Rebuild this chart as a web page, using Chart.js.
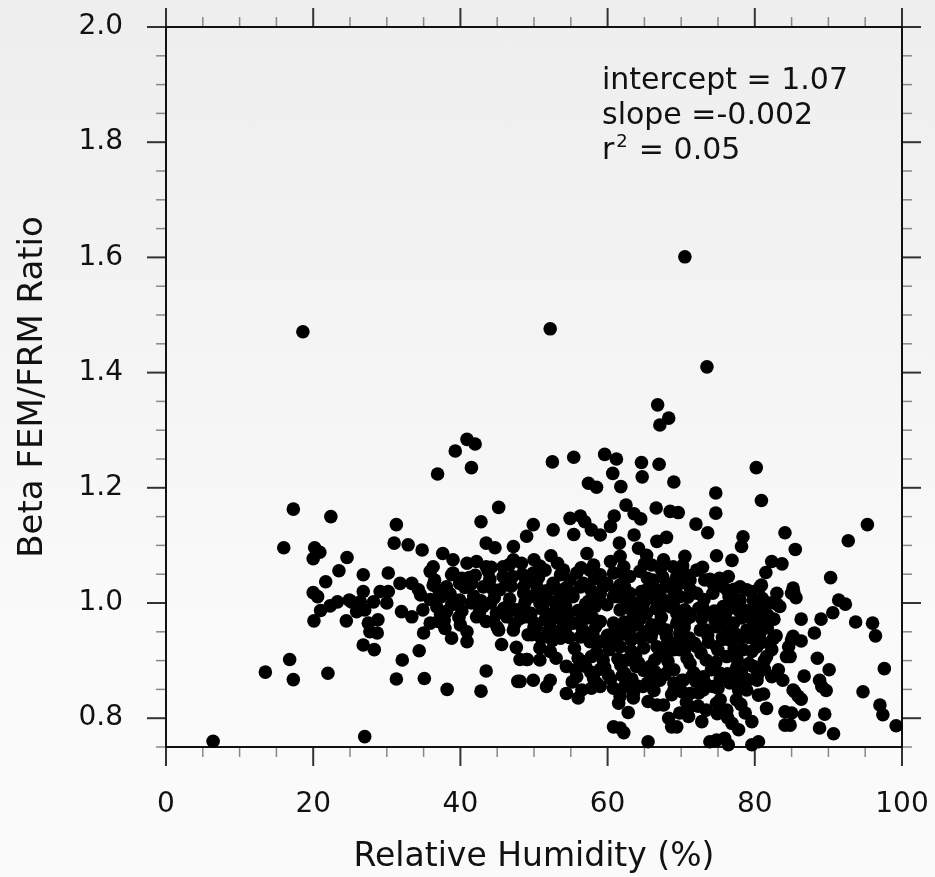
<!DOCTYPE html>
<html lang="en">
<head>
    <meta charset="UTF-8">
    <title>Beta FEM/FRM Ratio vs Relative Humidity</title>
    <script src="https://cdn.jsdelivr.net/npm/chart.js"></script>
    <style>
        html, body { margin: 0; padding: 0; }
        body {
            width: 935px; height: 877px;
            background: linear-gradient(to bottom, #eeeeee 0%, #f5f5f5 45%, #fafafa 70%, #fafafa 100%);
        }
        canvas { display: block; }
    </style>
</head>
<body>
    <canvas id="myChart" width="935" height="877"></canvas>

    <script>
        // relative humidity (%) of each paired sample
        const humidity = [
            // sparse points, left cluster
            18.6, 52.2, 70.5, 73.5, 6.4, 27.0, 66.8, 68.3, 67.1, 17.3,
            22.4, 16.0, 20.2, 20.9, 20.0, 24.6, 23.5, 21.7, 20.0, 20.6,
            23.3, 22.3, 21.0, 20.1, 24.5, 24.9, 16.8, 13.5, 17.3, 22.0,
            // 25-50 %
            40.9, 42.0, 39.3, 41.5, 36.9, 45.2, 42.8, 31.3, 31.0, 32.9,
            34.8, 43.5, 44.7, 47.2, 49.0, 26.8, 30.2, 37.6, 39.0, 36.3,
            35.9, 40.9, 42.2, 43.5, 38.8, 45.8, 45.8, 47.2, 48.3, 31.8,
            33.4, 34.3, 34.6, 36.3, 38.1, 39.9, 41.5, 43.1, 45.4, 48.6,
            29.1, 30.2, 26.8, 25.2, 26.4, 28.2, 30.0, 27.0, 25.9, 28.8,
            27.5, 27.7, 28.7, 32.0, 33.4, 38.8, 38.1, 39.9, 41.5, 43.1,
            42.2, 43.5, 44.9, 46.3, 47.6, 48.8, 35.9, 37.0, 37.9, 35.0,
            38.8, 40.9, 40.9, 47.2, 49.2, 26.8, 28.3, 34.4, 32.1, 45.6,
            47.6, 48.1, 49.0, 43.5, 31.3, 35.1, 38.2, 42.8, 47.8,
            // 50-70 %, upper part
            52.5, 55.4, 59.6, 61.2, 64.6, 67.0, 64.7, 60.7, 57.4, 58.5,
            61.8, 69.0, 62.5, 63.6, 64.5, 66.6, 68.5, 69.6, 54.9, 56.3,
            56.9, 60.9, 49.9, 52.6, 55.4, 57.8, 59.0, 60.4, 63.6, 66.7,
            68.0, 64.2, 61.6, 57.2, 52.3, 50.0, 61.7, 60.4, 65.3, 66.0,
            67.6, 68.9, 49.9, 51.5, 54.0, 55.8, 57.6, 59.0, 60.8, 63.0,
            64.4, 49.0, 52.6, 54.9, 56.7, 59.9, 61.7, 66.2, 68.0, 69.4,
            // 50-70 %, lower part
            50.1, 52.4, 49.7, 51.0, 53.6, 50.8, 49.1, 50.8, 53.0, 54.4,
            55.6, 56.0, 57.8, 59.4, 60.1, 58.1, 49.9, 52.2, 51.7, 48.1,
            54.4, 56.0, 56.5, 57.8, 59.0, 60.8, 61.7, 62.3, 63.5, 61.5,
            62.8, 60.8, 61.7, 62.2, 65.5, 64.8, 65.5, 67.6, 68.3, 68.7,
            67.1, 69.0, 69.0, 66.7, 63.9, 62.6, 61.7, 60.3, 57.6, 56.3,
            55.3, 54.7, 57.2, 59.0, 60.8, 63.0, 64.4, 66.0, 68.0, 69.4,
            63.5, 65.3, 67.1, 69.0, 61.7, 59.9, 48.6, 48.6, 50.4, 50.8,
            53.1, 53.1, 55.3, 56.3, 59.4, 60.8, 63.0, 63.9, 65.3, 67.1,
            68.5, 57.2, 58.3, 52.6, 49.0,
            // 70-86 %, upper part
            80.2, 74.7, 80.9, 74.7, 72.0, 73.6, 84.1, 78.4, 78.2, 85.5,
            70.5, 74.8, 76.9, 82.3, 83.7, 81.5, 75.2, 72.1, 71.2, 73.2,
            78.0, 80.7, 85.2,
            // 70-86 %, lower part
            83.0, 85.0, 80.9, 82.9, 84.6, 85.2, 84.3, 83.2, 82.3, 83.8,
            85.2, 85.9, 81.6, 84.1, 84.1, 80.5, 78.7, 79.6, 76.9, 77.8,
            73.9, 74.8, 75.9, 76.4, 79.6, 80.5, 72.8, 69.4, 73.4, 76.2,
            75.3, 77.5, 78.9, 71.2, 69.8, 71.2, 73.0, 74.3, 76.6, 78.4,
            80.3, 79.8, 77.5, 75.3, 73.0, 70.3, 69.0, 69.0, 71.2, 73.4,
            76.2, 78.4, 80.3, 81.6, 80.7, 78.9, 76.6, 74.8, 72.1, 69.8,
            69.8, 72.6, 74.8, 77.1, 79.3, 81.2, 82.1, 79.8, 77.5, 75.7,
            73.4, 71.2, 69.4, 69.8, 72.1, 74.3, 76.2, 78.9, 70.7, 74.3,
            // above 85 %
            95.3, 92.7, 90.3, 85.3, 85.6, 91.4, 92.3, 90.6, 89.0, 86.3,
            93.7, 96.0, 96.4, 88.1, 85.0, 86.3, 84.8, 88.5, 90.1, 97.6,
            86.7, 88.8, 89.1, 89.7, 94.7, 85.4, 86.3, 97.0, 97.4, 86.7,
            89.5, 85.0, 88.8, 90.7, 99.2, 84.8,
            // crowded core, 35-84 %
            44.2, 46.7, 50.8, 53.2, 56.4, 58.1, 62.2, 65.0, 67.2, 70.2, 72.9,
            40.2, 42.0, 44.0, 47.1, 50.6, 53.6, 58.2, 62.3, 65.4, 67.5, 70.6, 73.9, 76.4,
            37.1, 40.6, 44.4, 46.9, 51.7, 54.3, 57.7, 62.3, 64.6, 66.4, 69.3, 71.3, 75.6, 77.2, 79.5,
            35.9, 37.4, 42.8, 44.6, 46.7, 49.8, 51.9, 54.1, 57.4, 58.8, 61.4, 62.5, 65.9, 68.3, 70.9, 73.1, 76.5, 78.0, 81.0,
            34.9, 36.8, 40.2, 45.9, 51.2, 54.3, 56.0, 62.6, 64.1, 66.6, 68.6, 70.5, 72.4, 74.5, 76.9, 78.8, 80.2, 83.4,
            37.8, 39.8, 44.5, 48.1, 51.5, 53.8, 56.5, 58.0, 62.3, 64.4, 67.3, 70.6, 72.8, 75.4, 78.2, 80.7, 82.6,
            45.2, 50.3, 52.7, 54.3, 56.6, 58.4, 61.0, 62.4, 65.1, 67.4, 70.4, 73.4, 76.4, 79.4, 81.7,
            52.5, 54.8, 59.0, 61.0, 63.2, 65.9, 68.2, 71.1, 73.7, 75.8, 78.1, 80.1, 82.5,
            52.2, 55.5, 58.5, 60.2, 63.2, 64.9, 67.6, 70.5, 72.7, 75.0, 77.2, 79.6, 82.3,
            56.8, 61.4, 64.2, 66.4, 68.2, 70.8, 74.7, 77.6, 79.2, 81.3,
            57.7, 59.0, 62.3, 64.9, 66.4, 68.4, 71.7, 74.1, 76.3, 78.2, 81.3,
            55.2, 63.3, 65.4, 70.1, 72.0, 75.3, 77.9, 79.0,
            63.5, 66.3, 68.7, 70.1, 72.4, 77.8, 81.2,
            66.7, 70.7, 72.3, 74.8, 78.1,
            71.0, 74.9, 76.3,
            36.5, 39.0, 41.2, 43.8, 46.2, 48.4, 37.3, 40.0, 42.6, 45.0, 47.4, 49.6, 38.6, 41.8, 44.1, 46.5, 48.9,
            55.8, 58.6, 60.4, 62.0, 64.0, 66.0, 67.8, 69.6, 71.4, 73.2, 75.0, 76.8, 78.6, 80.4,
            57.0, 59.6, 61.8, 63.8, 65.8, 67.0, 68.9,
            70.0, 71.8, 73.6, 75.6, 77.4, 79.2, 81.0, 71.0, 72.9, 74.6, 76.0, 77.9, 79.8, 81.8, 83.0,
            51.0, 53.0, 55.0, 57.0, 59.0, 61.0, 63.0, 65.0, 67.0, 69.0,
            50.0, 52.0, 54.0, 56.0, 58.0, 60.0, 62.0, 64.0, 66.0, 68.0
        ];

        // Beta FEM / FRM ratio, same order as humidity
        const ratio = [
            1.471, 1.476, 1.601, 1.410, 0.760, 0.768, 1.344, 1.321, 1.309, 1.163,
            1.150, 1.096, 1.096, 1.088, 1.077, 1.079, 1.056, 1.037, 1.018, 1.011,
            1.002, 0.995, 0.987, 0.969, 0.969, 1.005, 0.902, 0.880, 0.867, 0.878,

            1.284, 1.276, 1.264, 1.235, 1.224, 1.166, 1.141, 1.136, 1.104, 1.101,
            1.092, 1.104, 1.096, 1.098, 1.116, 1.049, 1.052, 1.086, 1.075, 1.063,
            1.055, 1.069, 1.072, 1.063, 1.049, 1.063, 1.046, 1.075, 1.069, 1.034,
            1.034, 1.023, 1.014, 1.031, 1.028, 1.034, 1.034, 1.028, 1.023, 1.028,
            1.020, 1.020, 1.020, 1.002, 1.002, 1.002, 1.000, 0.988, 0.985, 0.971,
            0.965, 0.950, 0.948, 0.985, 0.976, 0.997, 0.985, 1.005, 1.000, 0.994,
            0.976, 0.968, 0.982, 0.976, 0.988, 1.002, 0.965, 0.968, 0.956, 0.948,
            0.939, 0.950, 0.933, 0.953, 0.945, 0.927, 0.919, 0.917, 0.901, 0.928,
            0.923, 0.902, 0.902, 0.882, 0.868, 0.869, 0.850, 0.847, 0.864,

            1.245, 1.253, 1.258, 1.250, 1.244, 1.241, 1.219, 1.225, 1.208, 1.201,
            1.202, 1.210, 1.170, 1.155, 1.146, 1.165, 1.159, 1.157, 1.147, 1.151,
            1.141, 1.151, 1.136, 1.127, 1.119, 1.127, 1.118, 1.133, 1.118, 1.107,
            1.114, 1.095, 1.104, 1.086, 1.082, 1.075, 1.081, 1.072, 1.083, 1.066,
            1.075, 1.063, 1.052, 1.057, 1.057, 1.052, 1.057, 1.049, 1.052, 1.046,
            1.055, 1.037, 1.034, 1.040, 1.034, 1.034, 1.031, 1.040, 1.034, 1.046,

            0.965, 0.971, 0.945, 0.939, 0.939, 0.922, 0.902, 0.901, 0.904, 0.890,
            0.884, 0.904, 0.907, 0.901, 0.875, 0.869, 0.866, 0.866, 0.855, 0.864,
            0.843, 0.835, 0.849, 0.852, 0.855, 0.852, 0.838, 0.855, 0.835, 0.826,
            0.810, 0.785, 0.783, 0.775, 0.759, 0.855, 0.829, 0.823, 0.800, 0.785,
            0.866, 0.861, 0.919, 0.924, 0.890, 0.901, 0.924, 0.930, 0.933, 0.941,
            0.965, 0.982, 0.974, 0.968, 0.965, 0.953, 0.939, 0.948, 0.953, 0.965,
            0.976, 0.982, 0.988, 0.994, 0.988, 0.997, 1.017, 0.994, 1.028, 1.000,
            1.023, 0.994, 1.011, 1.028, 1.028, 1.011, 1.017, 1.000, 1.023, 1.017,
            1.028, 0.988, 0.994, 0.982, 0.976,

            1.235, 1.191, 1.178, 1.156, 1.137, 1.122, 1.122, 1.115, 1.098, 1.093,
            1.081, 1.082, 1.074, 1.072, 1.068, 1.053, 1.043, 1.057, 1.040, 1.040,
            1.028, 1.028, 1.026,

            1.017, 1.017, 1.031, 0.943, 0.924, 0.942, 0.907, 0.884, 0.872, 0.866,
            0.849, 0.838, 0.817, 0.811, 0.788, 0.840, 0.809, 0.794, 0.791, 0.780,
            0.759, 0.762, 0.765, 0.754, 0.754, 0.759, 0.794, 0.785, 0.814, 0.814,
            0.832, 0.832, 0.849, 0.820, 0.809, 0.843, 0.849, 0.855, 0.861, 0.866,
            0.866, 0.890, 0.887, 0.878, 0.872, 0.866, 0.849, 0.884, 0.895, 0.901,
            0.907, 0.919, 0.924, 0.907, 0.948, 0.953, 0.936, 0.924, 0.924, 0.919,
            0.948, 0.953, 0.959, 0.965, 0.976, 0.988, 1.000, 1.005, 1.000, 0.994,
            0.982, 0.976, 0.982, 1.011, 1.017, 1.017, 1.023, 1.023, 1.034, 1.034,

            1.136, 1.108, 1.044, 1.018, 1.009, 1.005, 0.998, 0.983, 0.972, 0.972,
            0.967, 0.965, 0.943, 0.948, 0.936, 0.934, 0.907, 0.904, 0.884, 0.886,
            0.873, 0.866, 0.855, 0.848, 0.846, 0.846, 0.833, 0.823, 0.806, 0.806,
            0.807, 0.809, 0.783, 0.773, 0.787, 0.788,

            1.062, 1.067, 1.064, 1.069, 1.061, 1.066, 1.063, 1.068, 1.060, 1.065, 1.062,
            1.043, 1.048, 1.041, 1.046, 1.044, 1.049, 1.042, 1.047, 1.043, 1.045, 1.050, 1.041, 1.046,
            1.022, 1.027, 1.024, 1.029, 1.021, 1.026, 1.023, 1.028, 1.020, 1.025, 1.027, 1.022, 1.029, 1.024, 1.020,
            1.006, 1.011, 1.004, 1.009, 1.007, 1.012, 1.005, 1.010, 1.003, 1.008, 1.011, 1.006, 1.009, 1.004, 1.010, 1.006, 1.011, 1.005, 1.008,
            0.988, 0.993, 0.986, 0.991, 0.989, 0.994, 0.987, 0.992, 0.985, 0.990, 0.993, 0.988, 0.991, 0.986, 0.992, 0.987, 0.990, 0.994,
            0.970, 0.975, 0.968, 0.973, 0.971, 0.976, 0.969, 0.974, 0.967, 0.972, 0.975, 0.970, 0.973, 0.968, 0.974, 0.969, 0.972,
            0.953, 0.958, 0.951, 0.956, 0.954, 0.959, 0.952, 0.957, 0.950, 0.955, 0.958, 0.953, 0.956, 0.951, 0.957,
            0.935, 0.940, 0.933, 0.938, 0.936, 0.941, 0.934, 0.939, 0.932, 0.937, 0.940, 0.935, 0.938,
            0.916, 0.921, 0.914, 0.919, 0.917, 0.922, 0.915, 0.920, 0.913, 0.918, 0.921, 0.916, 0.919,
            0.898, 0.903, 0.896, 0.901, 0.899, 0.904, 0.897, 0.902, 0.895, 0.900,
            0.880, 0.885, 0.878, 0.883, 0.881, 0.886, 0.879, 0.884, 0.877, 0.882, 0.885,
            0.863, 0.868, 0.861, 0.866, 0.864, 0.869, 0.862, 0.867,
            0.843, 0.848, 0.841, 0.846, 0.844, 0.849, 0.842,
            0.823, 0.828, 0.821, 0.826, 0.824,
            0.803, 0.808, 0.801,
            1.040, 1.052, 1.044, 1.055, 1.038, 1.050, 0.980, 0.962, 0.984, 0.958, 0.964, 0.982, 1.016, 1.012, 1.000, 0.995, 1.040,
            0.872, 0.860, 0.868, 0.874, 0.856, 0.870, 0.876, 0.858, 0.872, 0.862, 0.852, 0.874, 0.856, 0.876,
            0.890, 0.888, 0.892, 0.908, 0.890, 0.908, 0.930,
            0.940, 0.930, 0.944, 0.940, 0.946, 0.940, 0.932, 0.982, 0.994, 0.970, 0.980, 0.986, 0.962, 0.978, 0.998,
            1.018, 1.002, 1.018, 0.998, 1.016, 1.022, 0.998, 1.002, 0.996, 1.022,
            0.958, 0.952, 0.962, 0.966, 0.948, 0.944, 0.946, 0.962, 0.962, 0.942
        ];

        // tick labels and axis limits
        const xTicks = [0, 20, 40, 60, 80, 100];
        const yTicks = [0.8, 1.0, 1.2, 1.4, 1.6, 1.8, 2.0];
        const xRange = [0, 100];
        const yRange = [0.75, 2.0];

        // regression summary shown in the upper right
        const fitLines = ['intercept = 1.07', 'slope =-0.002'];
        const r2Value = '0.05';

        const FONT = "'DejaVu Sans', Verdana, sans-serif";
        const points = humidity.map((h, i) => ({ x: h, y: ratio[i] }));

        // keep the plot box where the layout padding puts it
        const noOverflow = s => {
            s.paddingTop = 0; s.paddingBottom = 0;
            s.paddingLeft = 0; s.paddingRight = 0;
        };

        // box around the plot with outward ticks on all four sides
        const frameTicks = {
            id: 'frameTicks',
            beforeDatasetsDraw(chart) {
                const { ctx, chartArea: a, scales: { x, y } } = chart;
                ctx.save();
                const seg = (x0, y0, x1, y1) => {
                    ctx.beginPath(); ctx.moveTo(x0, y0); ctx.lineTo(x1, y1); ctx.stroke();
                };
                for (let v = xRange[0]; v <= xRange[1] + 1e-9; v += 5) {
                    const p = x.getPixelForValue(v);
                    const major = xTicks.includes(v);
                    const len = major ? 19 : 10;
                    ctx.lineWidth = major ? 2 : 1.5;
                    ctx.strokeStyle = major ? '#333' : '#888';
                    seg(p, a.bottom, p, a.bottom + len);
                    seg(p, a.top, p, a.top - len);
                }
                for (let k = 0; k <= 25; k++) {
                    const v = +(yRange[0] + k * 0.05).toFixed(2);
                    const p = y.getPixelForValue(v);
                    const major = yTicks.some(t => Math.abs(t - v) < 1e-6);
                    const len = major ? 19 : 10;
                    ctx.lineWidth = major ? 2 : 1.5;
                    ctx.strokeStyle = major ? '#333' : '#888';
                    seg(a.left, p, a.left - len, p);
                    seg(a.right, p, a.right + len, p);
                }
                ctx.lineWidth = 2;
                ctx.strokeStyle = '#111';
                ctx.strokeRect(a.left, a.top, a.right - a.left, a.bottom - a.top);
                ctx.restore();
            },
            afterDraw(chart) {
                const { ctx, chartArea: a } = chart;
                const left = a.left + 436;
                ctx.save();
                ctx.fillStyle = '#111';
                ctx.textBaseline = 'alphabetic';
                ctx.font = '30px ' + FONT;
                fitLines.forEach((t, i) => ctx.fillText(t, left, a.top + 62 + i * 35));
                const base = a.top + 132;
                ctx.fillText('r', left, base);
                const rw = ctx.measureText('r').width;
                ctx.font = '18px ' + FONT;
                ctx.fillText('2', left + rw + 2, base - 12);
                ctx.font = '30px ' + FONT;
                ctx.fillText(' = ' + r2Value, left + rw + 15, base);
                ctx.restore();
            }
        };

        const ctx = document.getElementById('myChart').getContext('2d');
        new Chart(ctx, {
            type: 'scatter',
            data: {
                datasets: [{
                    label: 'Beta FEM/FRM Ratio',
                    data: points,
                    backgroundColor: '#000',
                    borderWidth: 0,
                    pointRadius: 6.8,
                    pointHoverRadius: 6.8,
                    clip: false
                }]
            },
            options: {
                responsive: false,
                animation: false,
                devicePixelRatio: 1,
                layout: { padding: { top: 27, right: 33, left: 0, bottom: 0 } },
                plugins: { legend: { display: false }, tooltip: { enabled: false } },
                scales: {
                    x: {
                        type: 'linear',
                        min: xRange[0],
                        max: xRange[1],
                        afterBuildTicks: s => { s.ticks = xTicks.map(v => ({ value: v })); },
                        afterFit: s => { s.height = 130; noOverflow(s); },
                        grid: { display: false, drawTicks: false },
                        border: { display: false },
                        ticks: {
                            padding: 41, color: '#111', maxRotation: 0, autoSkip: false,
                            font: { family: FONT, size: 28 }
                        },
                        title: {
                            display: true, text: 'Relative Humidity (%)', color: '#111',
                            font: { family: FONT, size: 33, lineHeight: 1 },
                            padding: { top: 0, bottom: 3 }
                        }
                    },
                    y: {
                        type: 'linear',
                        min: yRange[0],
                        max: yRange[1],
                        afterBuildTicks: s => { s.ticks = yTicks.map(v => ({ value: v })); },
                        afterFit: s => { s.width = 166; noOverflow(s); },
                        grid: { display: false, drawTicks: false },
                        border: { display: false },
                        ticks: {
                            padding: 43, color: '#111', autoSkip: false,
                            font: { family: FONT, size: 28 },
                            callback: v => Number(v).toFixed(1)
                        },
                        title: {
                            display: true, text: 'Beta FEM/FRM Ratio', color: '#111',
                            font: { family: FONT, size: 34, lineHeight: 1 },
                            padding: { top: 16, bottom: 0 }
                        }
                    }
                }
            },
            plugins: [frameTicks]
        });
    </script>
</body>
</html>
